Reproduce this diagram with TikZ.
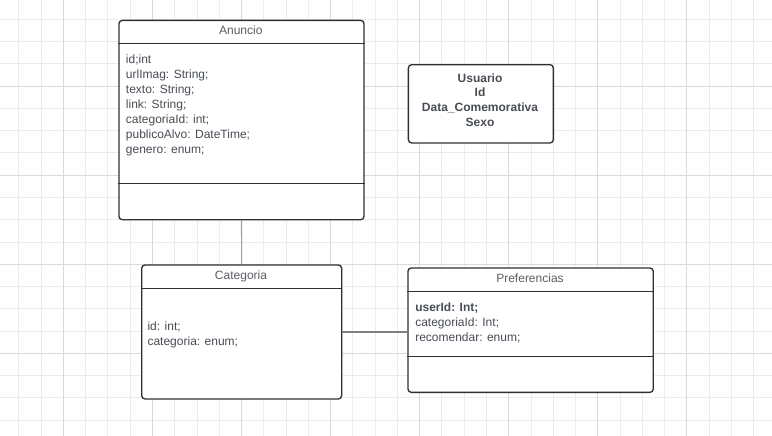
\documentclass[tikz,border=0pt]{standalone}
\usepackage{fontspec}
\setmainfont{Liberation Sans}
\usepackage{tikz}
\usetikzlibrary{arrows,fit,positioning,shapes.multipart}

\definecolor{gridminor}{RGB}{236,236,236}
\definecolor{gridmajor}{RGB}{218,218,218}
\definecolor{boxline}{RGB}{45,48,52}
\definecolor{txtgray}{RGB}{72,77,85}
\definecolor{titlegray}{RGB}{90,94,100}

\begin{document}
\begin{tikzpicture}[x=0.75pt, y=-0.75pt,
						classbox/.style={draw=boxline, line width=1pt, rounded corners=2.5pt, fill=white, anchor=north west, inner sep=0pt},
						sepline/.style={draw=boxline, line width=0.8pt},
						attr/.style={anchor=base west, inner sep=0pt, text=txtgray, font=\fontsize{9}{11}\selectfont},
						classtitle/.style={anchor=base, inner sep=0pt, text=titlegray, font=\fontsize{9}{11}\selectfont},
						assoc/.style={line width=0.8pt}]
		\useasboundingbox (0,0) rectangle (772,436);
		% background grid
		\begin{scope}
			\clip (0,0) rectangle (772,436);
			\fill[white] (0,0) rectangle (772,436);
			\foreach \i in {0,...,34} \draw[gridminor, line width=0.6pt] ({18.76+22.27*\i},0) -- ({18.76+22.27*\i},436);
			\foreach \i in {0,...,19} \draw[gridminor, line width=0.6pt] (0,{19.2+22.27*\i}) -- (772,{19.2+22.27*\i});
			\foreach \i in {0,...,8} \draw[gridmajor, line width=0.6pt] ({63.3+89.07*\i},0) -- ({63.3+89.07*\i},436);
			\foreach \i in {0,...,4} \draw[gridmajor, line width=0.6pt] (0,{86+89.07*\i}) -- (772,{86+89.07*\i});
		\end{scope}

		% classes
		\node[classbox, minimum width=183.75pt, minimum height=149.5pt] (anuncio) at (118.3,19.7) {};
		\node[classbox, minimum width=108.75pt, minimum height=58.7pt] (usuario) at (407.7,64) {};
		\node[classbox, minimum width=150pt, minimum height=100.5pt] (categoria) at (141,264.3) {};
		\node[classbox, minimum width=184pt, minimum height=93.3pt] (preferencias) at (407.3,267.3) {};

		\draw[sepline] ([yshift=-17.7pt]anuncio.north west) -- ([yshift=-17.7pt]anuncio.north east);
		\draw[sepline] ([yshift=-122.7pt]anuncio.north west) -- ([yshift=-122.7pt]anuncio.north east);
		\draw[sepline] ([yshift=-18pt]categoria.north west) -- ([yshift=-18pt]categoria.north east);
		\draw[sepline] ([yshift=-18.3pt]preferencias.north west) -- ([yshift=-18.3pt]preferencias.north east);
		\draw[sepline] ([yshift=-67pt]preferencias.north west) -- ([yshift=-67pt]preferencias.north east);

		% titles
		\node[classtitle] (anuncio-title) at (240.8,34.5) {Anuncio};
		\node[classtitle] (categoria-title) at (241,279.5) {Categoria};
		\node[classtitle] (preferencias-title) at (530,282) {Preferencias};

		% attributes
		\foreach \t [count=\i from 0] in {id;int, urlImag: String;, texto: String;, link: String;, categoriaId: int;, publicoAlvo: DateTime;, genero: enum;}
			\node[attr] (anuncio-\i) at (125.7,{63.5+14.95*\i}) {\t};
		\foreach \t [count=\i from 0] in {id: int;, categoria: enum;}
			\node[attr] (categoria-\i) at (147.3,{330+15.3*\i}) {\t};
		\node[attr, font=\fontsize{9}{11}\selectfont\bfseries] (preferencias-0) at (415,311.5) {userId: Int;};
		\node[attr] (preferencias-1) at (415,326.5) {categoriaId: Int;};
		\node[attr] (preferencias-2) at (415,341.5) {recomendar: enum;};
		\foreach \t [count=\i from 0] in {Usuario, Id, Data\_Comemorativa, Sexo}
			\node[classtitle, text=txtgray, font=\fontsize{9}{11}\selectfont\bfseries] (usuario-\i) at (480,{82+14.7*\i}) {\t};

		% associations
		\draw[assoc, draw=gray!75] (anuncio.south) -- (categoria.north);
		\draw[assoc, draw=gray] (categoria.east) -- (categoria.east -| preferencias.west);
	\end{tikzpicture}
\end{document}
